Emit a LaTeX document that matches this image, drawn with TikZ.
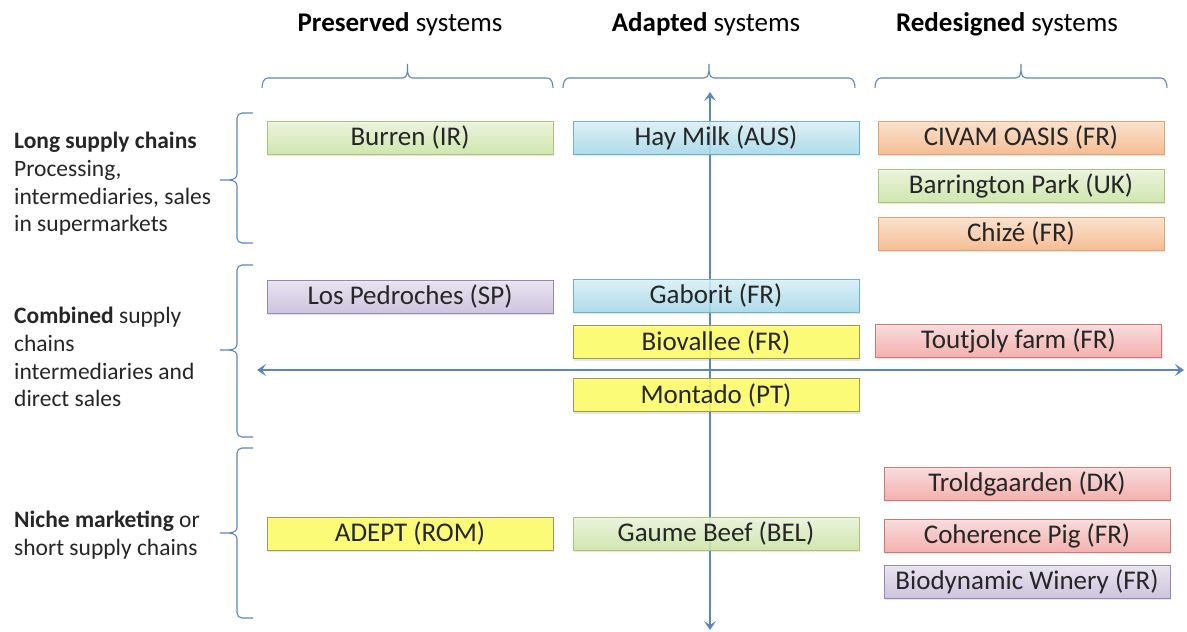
\documentclass[tikz,border=0pt]{standalone}
\usepackage{fontspec}
\setmainfont{Carlito}
\usepackage{tikz}
\definecolor{axisblue}{RGB}{91,135,184}
\definecolor{txt}{RGB}{38,38,38}
\definecolor{greentop}{RGB}{238,247,221}
\definecolor{greenbot}{RGB}{205,230,165}
\definecolor{greenline}{RGB}{168,198,120}
\definecolor{bluetop}{RGB}{222,242,249}
\definecolor{bluebot}{RGB}{166,219,236}
\definecolor{blueline}{RGB}{110,178,200}
\definecolor{orangetop}{RGB}{253,226,204}
\definecolor{orangebot}{RGB}{249,184,136}
\definecolor{orangeline}{RGB}{230,160,110}
\definecolor{redtop}{RGB}{252,220,220}
\definecolor{redbot}{RGB}{247,168,166}
\definecolor{redline}{RGB}{205,120,118}
\definecolor{purpletop}{RGB}{234,228,242}
\definecolor{purplebot}{RGB}{203,191,221}
\definecolor{purpleline}{RGB}{150,135,180}
\definecolor{yellowfill}{RGB}{255,255,102}
\definecolor{yellowline}{RGB}{160,152,90}
\usetikzlibrary{positioning,arrows.meta,shadows}
\tikzset{%
  farm/.style={draw, rectangle, minimum width=286pt, minimum height=33pt,
    inner sep=0pt, line width=0.8pt, text=txt, fill opacity=0.85, text opacity=1,
    font=\fontsize{27}{30}\selectfont,
    drop shadow={opacity=0.2, shadow xshift=1pt, shadow yshift=-2pt}},% one case study
  greenfarm/.style={farm, top color=greentop, bottom color=greenbot, draw=greenline},
  bluefarm/.style={farm, top color=bluetop, bottom color=bluebot, draw=blueline},
  orangefarm/.style={farm, top color=orangetop, bottom color=orangebot, draw=orangeline},
  redfarm/.style={farm, top color=redtop, bottom color=redbot, draw=redline},
  purplefarm/.style={farm, top color=purpletop, bottom color=purplebot, draw=purpleline},
  yellowfarm/.style={farm, fill=yellowfill, draw=yellowline},
  head/.style={text=black, font=\fontsize{27}{30}\selectfont},% column title
  rowlabel/.style={anchor=west, align=left, text=txt, inner sep=0pt,
    font=\fontsize{23.5}{27.7}\selectfont},% supply chain type
  bracepen/.style={draw=axisblue, line width=1.1pt},% grouping braces
  axis/.style={draw=axisblue, line width=1.3pt,
    {Stealth[length=9pt, width=12pt, inset=4pt]}-{Stealth[length=9pt, width=12pt, inset=4pt]}}% both axes
}
% brace over a column: left x, right x, y of the ends
\newcommand*{\colbrace}[3]{
  \pgfmathsetmacro{\bmid}{(#1+#2)/2}
  \draw[bracepen] (#1,#3) to[out=90,in=180] (#1+6,#3-10)
    -- (\bmid-5,#3-10) to[out=0,in=-90] (\bmid,#3-24)
    to[out=-90,in=180] (\bmid+5,#3-10) -- (#2-6,#3-10)
    to[out=0,in=90] (#2,#3);}
% brace left of a row: x of the line, top y, bottom y, tip y
\newcommand*{\rowbrace}[4]{
  \draw[bracepen] (#1+16,#2) -- (#1+5,#2) to[out=180,in=90] (#1,#2+5)
    -- (#1,#4-6) to[out=-90,in=0] (#1-17,#4) to[out=0,in=90] (#1,#4+6)
    -- (#1,#3-5) to[out=-90,in=180] (#1+5,#3) -- (#1+16,#3);}

\begin{document}
\begin{tikzpicture}[x=1pt, y=-1pt]
\useasboundingbox (0,0) rectangle (1187,632);
\def\ca{410}
\def\cb{716}
\def\cc{1021}

% axes
\coordinate (vtop) at (710,92);
\coordinate (vbot) at (710,630);
\coordinate (hleft) at (257,370);
\coordinate (hright) at (1184,370);
\draw[axis] (vbot) -- (vtop);
\draw[axis] (hleft) -- (hright);

% column titles
\node[head] (preserved) at (400,24) {\textbf{Preserved} systems};
\node[head] (adapted) at (706,24) {\textbf{Adapted} systems};
\node[head] (redesigned) at (1007,24) {\textbf{Redesigned} systems};
\colbrace{262}{553}{88}
\colbrace{563}{855}{88}
\colbrace{875}{1167}{88}

% row titles
\node[rowlabel] (long) at (14,184) {\textbf{Long supply chains}\\Processing,\\intermediaries, sales\\in supermarkets};
\node[rowlabel] (combined) at (14,357) {\textbf{Combined} supply\\chains\\intermediaries and\\direct sales};
\node[rowlabel] (niche) at (14,535) {\textbf{Niche marketing} or\\short supply chains};
\rowbrace{237}{113}{243}{180}
\rowbrace{237}{265}{437}{350}
\rowbrace{237}{448}{618}{533}

% preserved
\node[greenfarm] (burren) at (\ca,137.5) {Burren (IR)};
\node[purplefarm] (pedroches) at (\ca,296.5) {Los Pedroches (SP)};
\node[yellowfarm] (adept) at (\ca,533.5) {ADEPT (ROM)};

% adapted
\node[bluefarm] (haymilk) at (\cb,137.5) {Hay Milk (AUS)};
\node[bluefarm] (gaborit) at (\cb,295.5) {Gaborit (FR)};
\node[yellowfarm] (biovallee) at (\cb,342) {Biovallee (FR)};
\node[yellowfarm] (montado) at (\cb,395) {Montado (PT)};
\node[greenfarm] (gaume) at (\cb,533.5) {Gaume Beef (BEL)};

% redesigned
\node[orangefarm] (civam) at (\cc,137.5) {CIVAM OASIS (FR)};
\node[greenfarm] (barrington) at (\cc,185.5) {Barrington Park (UK)};
\node[orangefarm] (chize) at (\cc,233.5) {Chizé (FR)};
\node[redfarm] (toutjoly) at (1018.5,340.5) {Toutjoly farm (FR)};
\node[redfarm] (troldgaarden) at (1027,483.5) {Troldgaarden (DK)};
\node[redfarm] (coherence) at (1027,535.5) {Coherence Pig (FR)};
\node[purplefarm] (winery) at (1027,581.5) {Biodynamic Winery (FR)};
\end{tikzpicture}
\end{document}
